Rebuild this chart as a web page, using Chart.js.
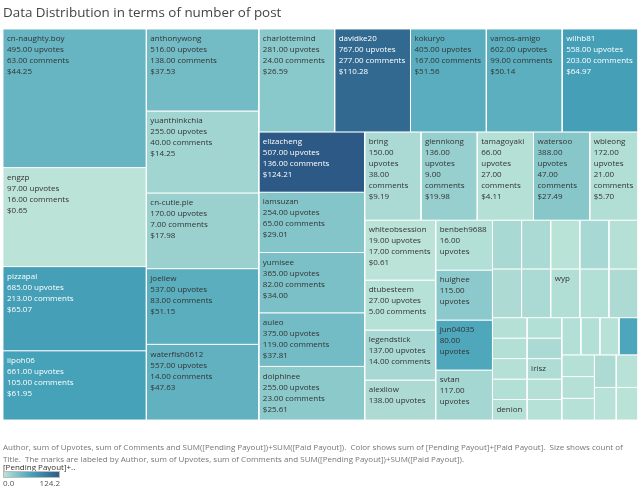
<!DOCTYPE html>
<html><head><meta charset="utf-8">
<script src="https://cdn.jsdelivr.net/npm/chart.js@4/dist/chart.umd.min.js"></script>
<style>html,body{margin:0;padding:0;background:#fff;overflow:hidden}canvas{display:block}</style>
</head><body>
<canvas id="c" width="640" height="489"></canvas>
<script>
// ---------------- data ----------------
const authors = [
  'cn-naughty.boy','engzp','pizzapai','iipoh06',
  'anthonywong','yuanthinkchia','cn-cutie.pie','joeliew','waterfish0612',
  'charlottemind','davidke20','kokuryo','vamos-amigo','wilhb81',
  'elizacheng','iamsuzan','yumisee','auleo','dolphinee',
  'bring','glennkong','tamagoyaki','watersoo','wbleong',
  'whiteobsession','dtubesteem','legendstick','alexliow',
  'benbeh9688','huighee','jun04035','svtan',
  null,null,null,null,null, null,null,'wyp',null,null,
  null,null,null,null,'denion', null,null,'irisz',null,null,
  null,null,null,null, null,null,null, null,null, null,null
];
const postCounts = [
  28,20,17,14, 13,13,12,12,12, 11,11,11,11,11, 9,9,9,8,8, 7,7,7,7,6,
  6,5,5,4, 4,4,4,4,
  2,2,2,2,2, 2,2,2,2,2,
  1,1,1,1,1, 1,1,1,1,1, 1,1,1,1, 1,1,1, 1,1, 1,1
];
const upvotes = [
  495,97,685,661, 516,255,170,537,557, 281,767,405,602,558,
  507,254,365,375,255, 150,136,66,388,172,
  19,27,137,138, 16,115,80,117,
  null,null,null,null,null, null,null,null,null,null,
  null,null,null,null,null, null,null,null,null,null,
  null,null,null,null, null,null,null, null,null, null,null
];
const comments = [
  63,16,213,105, 138,40,7,83,14, 24,277,167,99,203,
  136,65,82,119,23, 38,9,27,47,21,
  17,5,14,null, null,null,null,null,
  null,null,null,null,null, null,null,null,null,null,
  null,null,null,null,null, null,null,null,null,null,
  null,null,null,null, null,null,null, null,null, null,null
];
const payouts = [
  44.25,0.65,65.07,61.95, 37.53,14.25,17.98,51.15,47.63,
  26.59,110.28,51.56,50.14,64.97,
  124.21,29.01,34.00,37.81,25.61, 9.19,19.98,4.11,27.49,5.70,
  0.61,3,11,8, 5,25,57,12,
  10,9,1,11,4, 8,9,6,5,8,
  4,5,4,5,4, 5,9,7,4,3,
  5,5,2,58, 4,4,3, 8,2, 2,1
];
const colorRange = [0.0, 124.2];
const legendTickLabels = ['0.0', '124.2'];
const titleText = 'Data Distribution in terms of number of post';
const legendTitle = '[Pending Payout]+..';
const captionLines = [
  'Author, sum of Upvotes, sum of Comments and SUM([Pending Payout])+SUM([Paid Payout]).  Color shows sum of [Pending Payout]+[Paid Payout].  Size shows count of',
  'Title.  The marks are labeled by Author, sum of Upvotes, sum of Comments and SUM([Pending Payout])+SUM([Paid Payout]).'
];

// ---------------- layout helpers ----------------
const TREE_W = 635, TREE_H = 391;
const PALETTE = [[0,[188,228,216]],[0.5,[69,162,185]],[1,[44,89,133]]];
function colorFor(v){
  let t = (v - colorRange[0])/(colorRange[1]-colorRange[0]);
  t = Math.max(0, Math.min(1, t));
  for (let k=1;k<PALETTE.length;k++){
    if (t <= PALETTE[k][0]){
      const a = PALETTE[k-1], b = PALETTE[k];
      const u = (t-a[0])/(b[0]-a[0]);
      const c = a[1].map((x,j)=>Math.round(x+(b[1][j]-x)*u));
      return `rgb(${c[0]},${c[1]},${c[2]})`;
    }
  }
  return 'rgb(44,89,133)';
}
// strip treemap: strips along the short side, items added while the last one stays reasonably square
function layoutTreemap(values, W, H, maxRatio){
  const total = values.reduce((a,b)=>a+b,0);
  const unit = W*H/total;
  const rects = [];
  let x=0,y=0,w=W,h=H,i=0;
  while (i < values.length){
    const vertical = w >= h;
    const len = vertical ? h : w;
    let n=1, sum=values[i];
    while (i+n < values.length){
      const s2 = sum + values[i+n];
      const thick = s2*unit/len;
      const last = values[i+n]*unit/thick;
      if (thick/last > maxRatio) break;
      sum = s2; n++;
    }
    const thick = sum*unit/len;
    let off = 0;
    for (let k=0;k<n;k++){
      const l = values[i+k]*unit/thick;
      rects.push(vertical ? {x0:x,x1:x+thick,y0:y+off,y1:y+off+l}
                          : {x0:x+off,x1:x+off+l,y0:y,y1:y+thick});
      off += l;
    }
    if (vertical){ x+=thick; w-=thick; } else { y+=thick; h-=thick; }
    i += n;
  }
  return rects;
}
const cells = layoutTreemap(postCounts, TREE_W, TREE_H, 2.15);

const datasets = cells.map((r,i)=>({
  label: authors[i] || '',
  data: [{x:r.x0,y:r.y0},{x:r.x1,y:r.y0},{x:r.x1,y:r.y1},{x:r.x0,y:r.y1},{x:r.x0,y:r.y0}],
  backgroundColor: colorFor(payouts[i]),
  borderColor: 'rgba(255,255,255,0.9)',
  borderWidth: 1,
  fill: 'shape',
  pointRadius: 0,
  tension: 0
}));

const LABEL_FONT = '8px "Open Sans"';
const labelPlugin = {
  id: 'cellLabels',
  afterDatasetsDraw(chart){
    const {ctx} = chart; const xs = chart.scales.x, ys = chart.scales.y;
    ctx.save();
    ctx.font = LABEL_FONT;
    ctx.textBaseline = 'middle';
    ctx.textAlign = 'left';
    cells.forEach((r,i)=>{
      if (!authors[i]) return;
      const a = xs.getPixelForValue(r.x0), b = xs.getPixelForValue(r.x1);
      const c = ys.getPixelForValue(r.y0), d = ys.getPixelForValue(r.y1);
      const left = Math.min(a,b), top = Math.min(c,d);
      const cw = Math.abs(b-a), ch = Math.abs(d-c);
      const maxW = cw - 7;
      const raw = [authors[i]];
      const vals = [[upvotes[i],' upvotes','' ],[comments[i],' comments',''],[payouts[i],'','$']];
      for (const [v,suf,pre] of vals){ if (v==null) break; raw.push(pre+v.toFixed(2)+suf); }
      const lines = [];
      outer: for (const line of raw){
        const words = line.split(' ');
        let cur = '';
        for (const wd of words){
          const test = cur ? cur+' '+wd : wd;
          if (ctx.measureText(test).width <= maxW){ cur = test; continue; }
          if (!cur){ break outer; }
          lines.push(cur);
          if (ctx.measureText(wd).width > maxW){ break outer; }
          cur = wd;
        }
        if (cur) lines.push(cur);
      }
      const maxLines = Math.floor((ch - 19)/11) + 1;
      ctx.fillStyle = payouts[i] > 60 ? '#ffffff' : '#333333';
      lines.slice(0, Math.max(0,maxLines)).forEach((t,k)=>{
        ctx.fillText(t, left+4, top+10+11*k);
      });
    });
    ctx.restore();
  }
};

const decorPlugin = {
  id: 'decor',
  afterDraw(chart){
    const {ctx} = chart;
    ctx.save();
    ctx.textBaseline = 'middle'; ctx.textAlign = 'left';
    ctx.fillStyle = '#444';
    ctx.font = '13.4px "Open Sans"';
    ctx.fillText(titleText, 3, 13);
    ctx.fillStyle = '#767676';
    ctx.font = '8px "Open Sans"';
    captionLines.forEach((t,k)=>ctx.fillText(t, 3, 448 + 12*k));
    ctx.fillStyle = '#333';
    ctx.fillText(legendTitle, 3, 468);
    const gx0 = 3, gx1 = 60, gy0 = 471, gy1 = 478;
    const g = ctx.createLinearGradient(gx0,0,gx1,0);
    for (let k=0;k<=10;k++){ g.addColorStop(k/10, colorFor(colorRange[0]+(colorRange[1]-colorRange[0])*k/10)); }
    ctx.fillStyle = g; ctx.fillRect(gx0,gy0,gx1-gx0,gy1-gy0);
    ctx.strokeStyle = '#bbb'; ctx.lineWidth = 1; ctx.strokeRect(gx0+0.5,gy0+0.5,gx1-gx0-1,gy1-gy0-1);
    ctx.fillStyle = '#555';
    ctx.fillText(legendTickLabels[0], 3, 484);
    ctx.textAlign = 'right';
    ctx.fillText(legendTickLabels[1], 60, 484);
    ctx.restore();
  }
};

new Chart(document.getElementById('c'), {
  type: 'line',
  data: { datasets },
  options: {
    responsive: false, animation: false, devicePixelRatio: 1, events: [],
    layout: { padding: { left: 3, right: 2, top: 29, bottom: 69 } },
    scales: {
      x: { type: 'linear', min: 0, max: TREE_W, display: false },
      y: { type: 'linear', min: 0, max: TREE_H, reverse: true, display: false }
    },
    plugins: { legend: { display: false }, tooltip: { enabled: false }, title: { display: false } }
  },
  plugins: [labelPlugin, decorPlugin]
});
</script>
</body></html>
